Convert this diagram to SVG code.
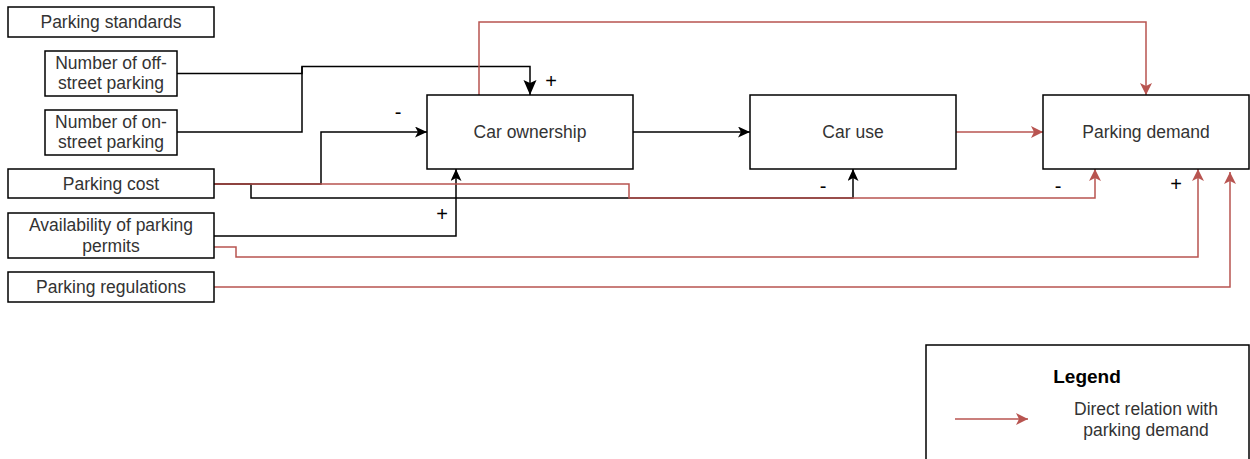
<svg xmlns="http://www.w3.org/2000/svg" width="1250" height="459" viewBox="0 0 1250 459">
  <style>
    .box { fill: #ffffff; stroke: #000000; stroke-width: 1.5; }
    .lbl { font-family: "Liberation Sans", Arial, sans-serif; font-size: 17.5px; fill: #333333; text-anchor: middle; }
    .sign { font-family: "Liberation Sans", Arial, sans-serif; font-size: 20px; fill: #000000; text-anchor: middle; }
    .blk { fill: none; stroke: #000000; stroke-width: 1.5; }
    .red { fill: none; stroke: #b85450; stroke-width: 1.5; }
  </style>
  <defs>
    <marker id="arrBlack" markerUnits="userSpaceOnUse" markerWidth="13" markerHeight="12" refX="12" refY="5.5" orient="auto">
      <path d="M0,0 L12,5.5 L0,11 L3,5.5 Z" fill="#000000"/>
    </marker>
    <marker id="arrBig" markerUnits="userSpaceOnUse" markerWidth="16" markerHeight="14" refX="15" refY="6.5" orient="auto">
      <path d="M0,0 L15,6.5 L0,13 L3,6.5 Z" fill="#000000"/>
    </marker>
    <marker id="arrRed" markerUnits="userSpaceOnUse" markerWidth="13" markerHeight="13" refX="12" refY="6" orient="auto">
      <path d="M0,0 L12,6 L0,12 L3,6 Z" fill="#b85450"/>
    </marker>
  </defs>

  <g id="connectors">
    <!-- black connectors -->
    <path class="blk" d="M177,73.5 H302 V66.5 H530 V95" marker-end="url(#arrBig)"/>
    <path class="blk" d="M177,132 H302 V66.5"/>
    <path class="blk" d="M214,184 H321 V132 H427" marker-end="url(#arrBlack)"/>
    <path class="blk" d="M214,184 H251 V198 H853 V169" marker-end="url(#arrBlack)"/>
    <path class="blk" d="M214,236 H456 V169" marker-end="url(#arrBlack)"/>
    <path class="blk" d="M633,132 H750" marker-end="url(#arrBlack)"/>
    <!-- red connectors -->
    <path class="red" d="M214,184 H629 V198 H1095 V169" marker-end="url(#arrRed)"/>
    <path class="red" d="M214,247 H236 V257 H1198 V169" marker-end="url(#arrRed)"/>
    <path class="red" d="M214,287 H1230 V172" marker-end="url(#arrRed)"/>
    <path class="red" d="M956,132 H1043" marker-end="url(#arrRed)"/>
    <path class="red" d="M479,95 V22 H1146 V95" marker-end="url(#arrRed)"/>
    <!-- signs -->
    <text class="sign" x="551" y="88">+</text>
    <text class="sign" x="398" y="119">-</text>
    <text class="sign" x="442" y="221">+</text>
    <text class="sign" x="823" y="193">-</text>
    <text class="sign" x="1058" y="193">-</text>
    <text class="sign" x="1176" y="191">+</text>
  </g>

  <g id="parking-standards">
    <rect class="box" x="8" y="7" width="206" height="30"/>
    <text class="lbl" x="111" y="28">Parking standards</text>
  </g>
  <g id="off-street">
    <rect class="box" x="45" y="51" width="132" height="45"/>
    <text class="lbl" x="111" y="68.5">Number of off-</text>
    <text class="lbl" x="111" y="89">street parking</text>
  </g>
  <g id="on-street">
    <rect class="box" x="45" y="110" width="132" height="45"/>
    <text class="lbl" x="111" y="127.5">Number of on-</text>
    <text class="lbl" x="111" y="148">street parking</text>
  </g>
  <g id="parking-cost">
    <rect class="box" x="8" y="169" width="206" height="29"/>
    <text class="lbl" x="111" y="189.5">Parking cost</text>
  </g>
  <g id="permits">
    <rect class="box" x="8" y="213" width="206" height="45"/>
    <text class="lbl" x="111" y="231">Availability of parking</text>
    <text class="lbl" x="111" y="251.5">permits</text>
  </g>
  <g id="regulations">
    <rect class="box" x="8" y="272" width="206" height="30"/>
    <text class="lbl" x="111" y="293">Parking regulations</text>
  </g>
  <g id="car-ownership">
    <rect class="box" x="427" y="95" width="206" height="74"/>
    <text class="lbl" x="530" y="138">Car ownership</text>
  </g>
  <g id="car-use">
    <rect class="box" x="750" y="95" width="206" height="74"/>
    <text class="lbl" x="853" y="138">Car use</text>
  </g>
  <g id="parking-demand">
    <rect class="box" x="1043" y="95" width="206" height="74"/>
    <text class="lbl" x="1146" y="138">Parking demand</text>
  </g>

  <g id="legend">
    <rect class="box" x="926" y="345" width="323" height="130"/>
    <text x="1087" y="383" font-family="'Liberation Sans', Arial, sans-serif" font-size="19" font-weight="bold" fill="#000000" text-anchor="middle">Legend</text>
    <path class="red" d="M955,419 H1028" marker-end="url(#arrRed)"/>
    <text class="lbl" x="1146" y="415">Direct relation with</text>
    <text class="lbl" x="1146" y="436">parking demand</text>
  </g>
</svg>
